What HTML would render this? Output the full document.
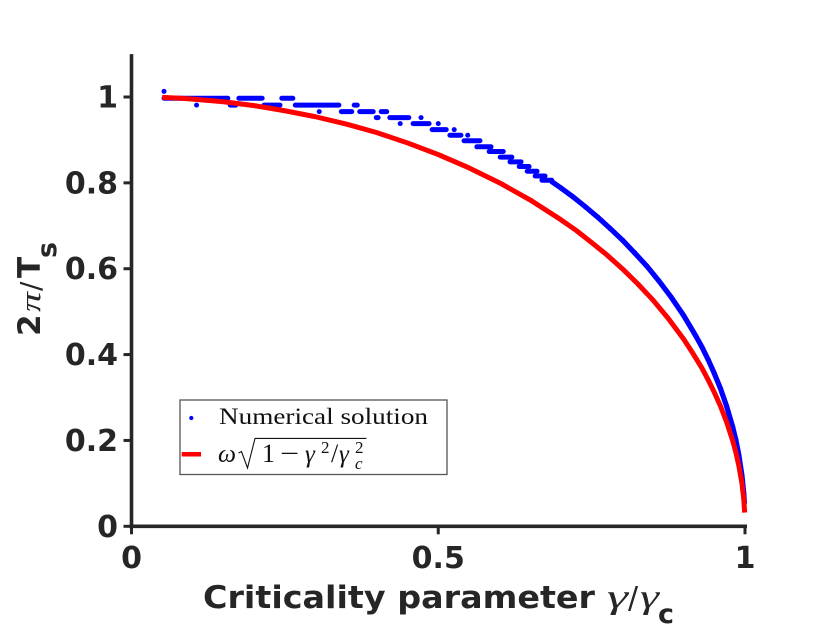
<!DOCTYPE html>
<html lang="en">
<head>
<meta charset="utf-8">
<title>Numerical solution vs analytic curve</title>
<style>
html,body{margin:0;padding:0;background:#fff;width:831px;height:638px;overflow:hidden}
svg{display:block}
.tick{font:bold 30px "DejaVu Sans",sans-serif;fill:#262626}
.lab{font:bold 31px "DejaVu Sans",sans-serif;fill:#262626}
.sub{font:bold 27px "DejaVu Sans",sans-serif;fill:#262626}
.mathlab{font:italic 34px "Liberation Serif",serif;fill:#262626}
.leg{font:23px "Liberation Serif",serif;fill:#111}
.mi{font:italic 25px "Liberation Serif",serif;fill:#111}
.mn{font:26px "Liberation Serif",serif;fill:#111}
.ms{font:17px "Liberation Serif",serif;fill:#111}
.msi{font:italic 17px "Liberation Serif",serif;fill:#111}
</style>
</head>
<body>
<svg id="chart" xmlns="http://www.w3.org/2000/svg" width="831" height="638" viewBox="0 0 831 638">
  <rect x="0" y="0" width="831" height="638" fill="#fff"/>
  <g id="series"></g>
  <g id="axes"></g>

  <text class="lab" x="203" y="608" textLength="392" lengthAdjust="spacingAndGlyphs">Criticality parameter</text>
  <g>
    <text class="mathlab" x="607" y="608" textLength="21" lengthAdjust="spacingAndGlyphs">γ</text>
    <text class="lab" x="628" y="608" style="font-weight:normal;font-size:30px">/</text>
    <text class="mathlab" x="640" y="608" textLength="19" lengthAdjust="spacingAndGlyphs">γ</text>
  </g>
  <text class="sub" x="658" y="623">c</text>

  <g transform="translate(40,337) rotate(-90)">
    <text class="lab" x="1" y="0">2</text>
    <text class="mathlab" x="25" y="0" style="font-size:28px" textLength="20" lengthAdjust="spacingAndGlyphs">π</text>
    <text class="lab" x="46" y="0" style="font-weight:normal;font-size:28px">/</text>
    <text class="lab" x="59" y="0">T</text>
    <text class="sub" x="79" y="16">s</text>
  </g>

  <g>
    <rect x="180" y="400" width="267" height="74.5" fill="#fff" stroke="#555" stroke-width="1.3"/>
    <circle cx="191.3" cy="418" r="2.1" fill="#0000ff"/>
    <text class="leg" x="219" y="424" textLength="209" lengthAdjust="spacingAndGlyphs">Numerical solution</text>
    <line x1="181.7" x2="201" y1="454.3" y2="454.3" stroke="#ff0000" stroke-width="4.5"/>
    <g>
      <text class="mi" x="218" y="462" textLength="18" lengthAdjust="spacingAndGlyphs">ω</text>
      <path d="M238.5 453 L241.5 451.5 L247.5 468 L255 438.4 L366.5 438.4" fill="none" stroke="#111" stroke-width="1.1"/>
      <text class="mn" x="262" y="462">1</text>
      <text class="mn" x="280" y="462" textLength="19" lengthAdjust="spacingAndGlyphs">−</text>
      <text class="mi" x="305" y="462">γ</text>
      <text class="ms" x="321" y="453">2</text>
      <text class="mn" x="331" y="462">/</text>
      <text class="mi" x="339" y="462">γ</text>
      <text class="ms" x="355" y="453">2</text>
      <text class="msi" x="355" y="469">c</text>
    </g>
  </g>
</svg>
<script>
// Tick values
const xTicks = [0, 0.5, 1];
const xTickLabels = ["0", "0.5", "1"];
const yTicks = [0, 0.2, 0.4, 0.6, 0.8, 1];
const yTickLabels = ["0", "0.2", "0.4", "0.6", "0.8", "1"];

// Numerical solution, quantised part: runs of touching dots (start gamma, end gamma, frequency)
const runStart = [0.053,0.175,0.245,0.053,0.106,0.161,0.216,0.267,0.363,0.306,0.342,0.372,0.407,0.399,0.421,0.472,0.438,0.459,0.500,0.490,0.526,0.519,0.548,0.542,0.563,0.583,0.601,0.617,0.632,0.645,0.658,0.669];
const runEnd   = [0.157,0.213,0.263,0.053,0.106,0.170,0.242,0.338,0.368,0.306,0.359,0.394,0.416,0.402,0.452,0.472,0.438,0.485,0.500,0.513,0.526,0.537,0.548,0.568,0.586,0.606,0.620,0.635,0.648,0.661,0.674,0.685];
const runFreq  = [0.997,0.997,0.997,1.013,0.981,0.981,0.981,0.981,0.981,0.966,0.966,0.966,0.966,0.952,0.952,0.952,0.938,0.938,0.938,0.924,0.924,0.911,0.911,0.898,0.884,0.873,0.860,0.849,0.838,0.827,0.816,0.806];

// Numerical solution, dense tail
const tailGamma = [0.685,0.70,0.72,0.74,0.76,0.78,0.80,0.82,0.84,0.86,0.88,0.90,0.92,0.93,0.94,0.95,0.96,0.97,0.98,0.985,0.99,0.995,0.998,0.999];
const tailFreq  = [0.803,0.788,0.767,0.744,0.720,0.694,0.667,0.637,0.606,0.571,0.533,0.491,0.443,0.417,0.388,0.356,0.321,0.280,0.231,0.202,0.166,0.119,0.077,0.055];

// Analytic curve
const curveGamma = [0.05,0.08,0.1,0.15,0.2,0.25,0.3,0.35,0.4,0.45,0.5,0.55,0.6,0.65,0.7,0.725,0.75,0.775,0.8,0.825,0.85,0.875,0.9,0.915,0.93,0.94,0.95,0.96,0.97,0.98,0.985,0.99,0.995,0.998,0.9995];
const curveFreq  = [0.999,0.997,0.995,0.989,0.980,0.968,0.954,0.937,0.917,0.893,0.866,0.835,0.800,0.760,0.714,0.689,0.661,0.632,0.600,0.565,0.527,0.484,0.436,0.403,0.368,0.341,0.312,0.280,0.243,0.199,0.173,0.141,0.100,0.063,0.032];

const NS = "http://www.w3.org/2000/svg";
const xScale = function (v) { return 131.5 + v * 613.5; };
const yScale = function (v) { return 526.3 - v * 429.3; };
const seriesLayer = document.getElementById("series");
const axesLayer = document.getElementById("axes");
const INK = "#262626";

function make(tag, parent, props, text) {
  const el = document.createElementNS(NS, tag);
  Object.keys(props).forEach(function (k) { el.setAttribute(k, props[k]); });
  if (text !== undefined) { el.textContent = text; }
  parent.appendChild(el);
  return el;
}

// Numerical runs
runStart.forEach(function (s, i) {
  const el = make("line", seriesLayer, {
    x1: xScale(s), x2: xScale(runEnd[i]),
    y1: yScale(runFreq[i]), y2: yScale(runFreq[i]),
    stroke: "#0000ff", "stroke-width": 5, "stroke-linecap": "round"
  });
  
  
});

// Numerical tail
const tailPts = tailGamma.map(function (g, i) { return xScale(g) + "," + yScale(tailFreq[i]); }).join(" ");
const tailLine = make("polyline", seriesLayer, {
  points: tailPts, fill: "none", stroke: "#0000ff", "stroke-width": 5.2, "stroke-linejoin": "round"
});


tailGamma.forEach(function (g, i) {
  const el = make("circle", seriesLayer, { cx: xScale(g), cy: yScale(tailFreq[i]), r: 2.6, fill: "#0000ff" });
  
  
});

// Analytic curve
const curvePts = curveGamma.map(function (g, i) { return xScale(g) + "," + yScale(curveFreq[i]); }).join(" ");
const curve = make("polyline", seriesLayer, {
  points: curvePts, fill: "none", stroke: "#ff0000", "stroke-width": 5, "stroke-linejoin": "round"
});



// Axis spines
const ySpine = make("line", axesLayer, { x1: xScale(0), x2: xScale(0), y1: yScale(1.1), y2: yScale(0) + 2, stroke: INK, "stroke-width": 3.6 });


const xSpine = make("line", axesLayer, { x1: xScale(0) - 2, x2: xScale(1) + 2, y1: yScale(0), y2: yScale(0), stroke: INK, "stroke-width": 3.6 });



// X ticks
xTicks.forEach(function (v, i) {
  const tick = make("line", axesLayer, { x1: xScale(v), x2: xScale(v), y1: yScale(0), y2: yScale(0) + 8, stroke: INK, "stroke-width": 3 });
  
  
  const label = make("text", axesLayer, { class: "tick", x: xScale(v), y: 568, "text-anchor": "middle" }, xTickLabels[i]);
  
  
});

// Y ticks
yTicks.forEach(function (v, i) {
  const tick = make("line", axesLayer, { x1: xScale(0) - 8, x2: xScale(0), y1: yScale(v), y2: yScale(v), stroke: INK, "stroke-width": 3 });
  
  
  const label = make("text", axesLayer, { class: "tick", x: 118, y: yScale(v) + 10.5, "text-anchor": "end" }, yTickLabels[i]);
  
  
});
</script>
</body>
</html>
